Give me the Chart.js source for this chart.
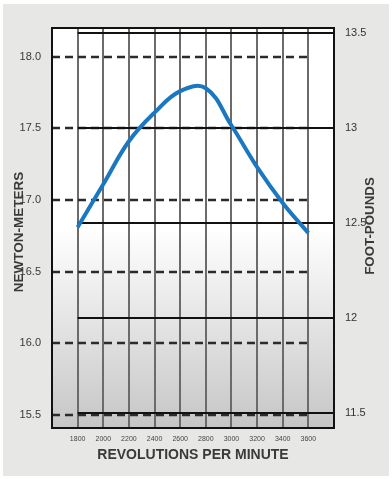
<!DOCTYPE html>
<html>
<head>
<meta charset="utf-8">
<script src="https://cdn.jsdelivr.net/npm/chart.js@4"></script>
<style>
  html, body { margin: 0; padding: 0; background: #ffffff; }
  canvas { display: block; }
</style>
</head>
<body>
<canvas id="torque-chart" width="392" height="479"></canvas>
<script>
const rpm = [1800, 2000, 2200, 2400, 2600, 2800, 3000, 3200, 3400, 3600];
const torqueNm = [16.81, 17.11, 17.41, 17.61, 17.76, 17.78, 17.52, 17.23, 16.98, 16.77];
const rpmTicks = [1800, 2000, 2200, 2400, 2600, 2800, 3000, 3200, 3400, 3600];
const nmTicks = [15.5, 16.0, 16.5, 17.0, 17.5, 18.0];
const ftlbTicks = [11.5, 12, 12.5, 13, 13.5];

const FONT = "'Liberation Sans', Arial, Helvetica, sans-serif";
const ctx = document.getElementById('torque-chart');

// background, horizontal grid, frame and the two side titles
const chartDecor = {
  id: 'chartDecor',
  beforeDraw(chart) {
    const c = chart.ctx, a = chart.chartArea;
    c.save();
    c.fillStyle = '#ffffff';
    c.fillRect(0, 0, chart.width, chart.height);
    c.fillStyle = '#e7e7e5';
    c.fillRect(3, 4, chart.width - 6, chart.height - 7);
    const g = c.createLinearGradient(0, a.top, 0, a.bottom);
    g.addColorStop(0, '#ffffff');
    g.addColorStop(0.5, '#ffffff');
    g.addColorStop(1, '#c6c6c6');
    c.fillStyle = g;
    c.fillRect(a.left, a.top, a.right - a.left, a.bottom - a.top);
    c.restore();
  },
  beforeDatasetsDraw(chart) {
    const c = chart.ctx, a = chart.chartArea;
    const x = chart.scales.x, y = chart.scales.y, y2 = chart.scales.y2;
    c.save();
    // newton-meter lines: dashed, left edge to 3600
    c.strokeStyle = '#2b2b2b';
    c.lineWidth = 2.5;
    c.setLineDash([8, 5]);
    const xEnd = x.getPixelForValue(rpmTicks[rpmTicks.length - 1]);
    nmTicks.forEach(v => {
      const py = Math.round(y.getPixelForValue(v));
      c.beginPath();
      c.moveTo(a.left, py);
      c.lineTo(xEnd, py);
      c.stroke();
    });
    // foot-pound lines: solid, 1800 to right edge
    c.setLineDash([]);
    c.strokeStyle = '#111111';
    c.lineWidth = 2;
    const xStart = x.getPixelForValue(rpmTicks[0]);
    ftlbTicks.forEach(v => {
      const py = Math.round(y2.getPixelForValue(v));
      c.beginPath();
      c.moveTo(xStart, py);
      c.lineTo(a.right, py);
      c.stroke();
    });
    c.restore();
  },
  afterDraw(chart) {
    const c = chart.ctx, a = chart.chartArea;
    c.save();
    c.strokeStyle = '#111111';
    c.lineWidth = 2;
    c.strokeRect(a.left, a.top, a.right - a.left, a.bottom - a.top);
    c.fillStyle = '#3a3a3a';
    c.textAlign = 'center';
    c.textBaseline = 'middle';
    c.font = 'bold 13.5px ' + FONT;
    c.save();
    c.translate(19, 232);
    c.rotate(-Math.PI / 2);
    c.fillText('NEWTON-METERS', 0, 0);
    c.restore();
    c.font = 'bold 13.3px ' + FONT;
    c.translate(370, 226);
    c.rotate(-Math.PI / 2);
    c.fillText('FOOT-POUNDS', 0, 0);
    c.restore();
  }
};

new Chart(ctx, {
  type: 'line',
  data: {
    datasets: [{
      label: 'Torque',
      data: rpm.map((r, i) => ({ x: r, y: torqueNm[i] })),
      borderColor: '#1b78c0',
      borderWidth: 4,
      pointRadius: 0,
      tension: 0.4,
      yAxisID: 'y'
    }]
  },
  options: {
    responsive: false,
    animation: false,
    devicePixelRatio: 1,
    layout: { padding: { top: 28, left: 0, right: 0, bottom: 0 } },
    plugins: { legend: { display: false }, tooltip: { enabled: false } },
    scales: {
      x: {
        type: 'linear',
        min: 1600,
        max: 3800,
        afterBuildTicks: s => { s.ticks = rpmTicks.map(v => ({ value: v })); },
        afterFit: s => { s.height = 51; },
        border: { display: false },
        grid: { color: '#6f6a6a', lineWidth: 2, drawTicks: false },
        ticks: {
          color: '#444444',
          font: { family: "'Liberation Sans Narrow', " + FONT, size: 7 },
          padding: 7,
          maxRotation: 0,
          autoSkip: false,
          callback: v => String(v)
        },
        title: {
          display: true,
          text: 'REVOLUTIONS PER MINUTE',
          color: '#3a3a3a',
          font: { family: FONT, size: 14, weight: 'bold' },
          padding: { top: 2, bottom: 15.6 }
        }
      },
      y: {
        position: 'left',
        min: 15.41,
        max: 18.2,
        afterBuildTicks: s => { s.ticks = nmTicks.map(v => ({ value: v })); },
        afterFit: s => { s.width = 52; },
        border: { display: false },
        grid: { display: false },
        ticks: {
          color: '#3a3a3a',
          font: { family: FONT, size: 11 },
          padding: 3,
          callback: v => v.toFixed(1)
        }
      },
      y2: {
        position: 'right',
        min: 11.42,
        max: 13.526,
        afterBuildTicks: s => { s.ticks = ftlbTicks.map(v => ({ value: v })); },
        afterFit: s => { s.width = 58; },
        border: { display: false },
        grid: { display: false },
        ticks: {
          color: '#333333',
          font: { family: FONT, size: 11 },
          padding: 3,
          callback: v => String(v)
        }
      }
    }
  },
  plugins: [chartDecor]
});
</script>
</body>
</html>
